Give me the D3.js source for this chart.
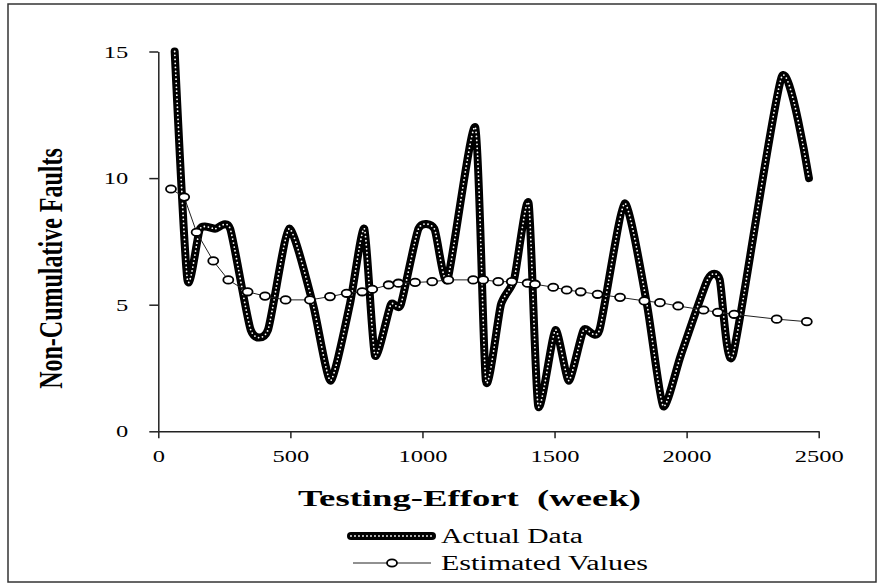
<!DOCTYPE html>
<html>
<head>
<meta charset="utf-8">
<script src="https://cdn.jsdelivr.net/npm/d3@7"></script>
<style>
  html, body { margin: 0; padding: 0; background: #fff; }
  svg { display: block; }
  text { font-family: "Liberation Serif", "Times New Roman", serif; fill: #000; }
</style>
</head>
<body>
<svg id="chart" width="881" height="587"></svg>
<script>
// Observed non-cumulative faults (testing effort, faults)
const effortActual = [62, 110, 158, 215, 272, 350, 415, 495, 586, 652, 725, 780, 820, 880, 918, 985, 1045, 1095, 1200, 1240, 1297, 1347, 1402, 1438, 1503, 1554, 1610, 1670, 1765, 1850, 1911, 1978, 2080, 2125, 2175, 2360, 2463];
const faultsActual = [15, 6, 8, 8, 8, 4, 4, 8, 5, 2, 5, 8, 3, 5, 5, 8, 8, 6, 12, 2, 5, 6, 9, 1, 4, 2, 4, 4, 9, 5, 1, 3, 6, 6, 3, 14, 10];

// Model estimates
const effortEstimated = [48, 98, 145, 208, 265, 338, 404, 482, 574, 650, 713, 772, 810, 872, 909, 972, 1037, 1098, 1192, 1230, 1287, 1338, 1398, 1426, 1495, 1546, 1599, 1663, 1748, 1840, 1899, 1968, 2064, 2118, 2180, 2341, 2455];
const faultsEstimated = [9.57, 9.25, 7.86, 6.73, 5.98, 5.51, 5.34, 5.19, 5.19, 5.32, 5.45, 5.51, 5.61, 5.78, 5.85, 5.88, 5.91, 5.98, 5.98, 5.98, 5.91, 5.91, 5.85, 5.81, 5.69, 5.58, 5.51, 5.41, 5.29, 5.15, 5.08, 4.95, 4.79, 4.70, 4.62, 4.43, 4.33];

const xTicks = [0, 500, 1000, 1500, 2000, 2500];
const yTicks = [0, 5, 10, 15];

const xTitle = "Testing-Effort  (week)";
const yTitle = "Non-Cumulative Faults";
const seriesNames = ["Actual Data", "Estimated Values"];

const serif = '"Liberation Serif", "Times New Roman", serif';
// Text is drawn horizontally widened
const widen = 1.4;

const svg = d3.select("#chart");

svg.append("rect")
  .attr("x", 8).attr("y", 4)
  .attr("width", 868).attr("height", 578)
  .attr("fill", "none").attr("stroke", "#333").attr("stroke-width", 1.5);

const x = d3.scaleLinear().domain([0, 2500]).range([158.3, 818.7]);
const y = d3.scaleLinear().domain([0, 15]).range([431.3, 51.5]);

function widenText(sel, len) {
  sel.each(function () {
    const w = len || this.getComputedTextLength() * widen;
    d3.select(this).attr("textLength", w).attr("lengthAdjust", "spacingAndGlyphs");
  });
}

function styleAxis(g) {
  g.attr("font-family", serif).attr("font-size", null);
  g.select(".domain").attr("stroke", "#222").attr("stroke-width", 1.5);
  g.selectAll(".tick line").attr("stroke", "#222").attr("stroke-width", 1.5);
  g.selectAll(".tick text").style("font-family", serif).style("font-size", "17.5px").attr("fill", "#000");
}

const gx = svg.append("g")
  .attr("transform", `translate(0,${y(0)})`)
  .call(d3.axisBottom(x).tickValues(xTicks).tickFormat(d3.format("d"))
    .tickSize(7).tickPadding(11).tickSizeOuter(0));
styleAxis(gx);
gx.selectAll(".tick text").call(widenText);

const gy = svg.append("g")
  .attr("transform", `translate(${x(0)},0)`)
  .call(d3.axisLeft(y).tickValues(yTicks).tickFormat(d3.format("d"))
    .tickSize(9).tickPadding(21).tickSizeOuter(0));
styleAxis(gy);
gy.selectAll(".tick text").call(widenText);

// Axis titles
svg.append("text")
  .attr("x", 469.5).attr("y", 506)
  .attr("text-anchor", "middle")
  .style("white-space", "pre")
  .style("font-family", serif)
  .style("font-weight", "bold").style("font-size", "24px")
  .text(xTitle)
  .call(widenText, 343);

svg.append("text")
  .attr("transform", `translate(62,268.5) scale(${widen},1) rotate(-90)`)
  .attr("text-anchor", "middle")
  .style("font-family", serif)
  .style("font-weight", "bold").style("font-size", "24px")
  .text(yTitle);

// Actual data: heavy smoothed line with a beaded centre
const actualPts = effortActual.map((e, i) => [e, faultsActual[i]]);
const smooth = d3.line().x(d => x(d[0])).y(d => y(d[1])).curve(d3.curveCardinal.tension(0.4));

function beadedLine(g, d) {
  g.append("path").attr("d", d)
    .attr("fill", "none").attr("stroke", "#000").attr("stroke-width", 8)
    .attr("stroke-linecap", "round").attr("stroke-linejoin", "round");
  g.append("path").attr("d", d)
    .attr("fill", "none").attr("stroke", "#fff").attr("stroke-width", 1.8)
    .attr("stroke-dasharray", "0 4").attr("stroke-linecap", "round");
}

beadedLine(svg.append("g"), smooth(actualPts));

// Estimated values: thin line with open markers
const estPts = effortEstimated.map((e, i) => [e, faultsEstimated[i]]);
const straight = d3.line().x(d => x(d[0])).y(d => y(d[1]));
const gEst = svg.append("g");
gEst.append("path").attr("d", straight(estPts))
  .attr("fill", "none").attr("stroke", "#222").attr("stroke-width", 1);
gEst.selectAll("ellipse").data(estPts).join("ellipse")
  .attr("cx", d => x(d[0])).attr("cy", d => y(d[1]))
  .attr("rx", 5).attr("ry", 3.7)
  .attr("fill", "#fff").attr("stroke", "#000").attr("stroke-width", 1.8);

// Legend
const lg = svg.append("g");
beadedLine(lg, d3.line()([[351, 536], [432, 536]]));
lg.append("text").attr("x", 441).attr("y", 542.5)
  .style("font-family", serif)
  .style("font-size", "20px").text(seriesNames[0]).call(widenText, 142);

lg.append("line").attr("x1", 353).attr("x2", 431).attr("y1", 563).attr("y2", 563)
  .attr("stroke", "#222").attr("stroke-width", 1);
lg.append("ellipse").attr("cx", 392).attr("cy", 563).attr("rx", 5).attr("ry", 3.7)
  .attr("fill", "#fff").attr("stroke", "#000").attr("stroke-width", 1.8);
lg.append("text").attr("x", 441).attr("y", 569.5)
  .style("font-family", serif)
  .style("font-size", "20px").text(seriesNames[1]).call(widenText, 207);
</script>
</body>
</html>
